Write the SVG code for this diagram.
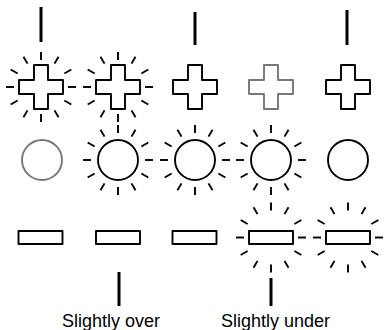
<svg xmlns="http://www.w3.org/2000/svg" xmlns:xlink="http://www.w3.org/1999/xlink" width="385" height="330" viewBox="0 0 385 330">
<style>
  .shape{fill:#fff;stroke:#000;stroke-width:1.9;stroke-linejoin:round}
  .dim{stroke:#777}
  .ray{stroke:#000;stroke-width:1.9;fill:none}
  .bar{stroke:#000;stroke-width:3;fill:none}
  .label{font-family:"Liberation Sans",Arial,sans-serif;font-size:18px;fill:#000}
</style>
<defs>
  <path id="cross" d="M-7,-22 H7 V-7 H22 V7 H7 V22 H-7 V7 H-22 V-7 H-7 Z"/>
  <g id="rays" class="ray">
    <line x1="0" y1="-27" x2="0" y2="-35"/>
    <line x1="13.5" y1="-23.38" x2="17.5" y2="-30.31"/>
    <line x1="23.38" y1="-13.5" x2="30.31" y2="-17.5"/>
    <line x1="27" y1="0" x2="35" y2="0"/>
    <line x1="23.38" y1="13.5" x2="30.31" y2="17.5"/>
    <line x1="13.5" y1="23.38" x2="17.5" y2="30.31"/>
    <line x1="0" y1="27" x2="0" y2="35"/>
    <line x1="-13.5" y1="23.38" x2="-17.5" y2="30.31"/>
    <line x1="-23.38" y1="13.5" x2="-30.31" y2="17.5"/>
    <line x1="-27" y1="0" x2="-35" y2="0"/>
    <line x1="-23.38" y1="-13.5" x2="-30.31" y2="-17.5"/>
    <line x1="-13.5" y1="-23.38" x2="-17.5" y2="-30.31"/>
  </g>
</defs>

<g id="connectors">
  <line class="bar" x1="41" y1="7" x2="41" y2="42"/>
  <line class="bar" x1="195" y1="12" x2="195" y2="45"/>
  <line class="bar" x1="347" y1="10" x2="347" y2="45"/>
  <line class="bar" x1="119" y1="272" x2="119" y2="306"/>
  <line class="bar" x1="271" y1="278" x2="271" y2="306"/>
</g>

<g id="cross1"><use href="#rays" x="41" y="87"/><use href="#cross" class="shape" x="41" y="87"/></g>
<g id="cross2"><use href="#rays" x="118" y="87"/><use href="#cross" class="shape" x="118" y="87"/></g>
<g id="cross3"><use href="#cross" class="shape" x="195" y="87"/></g>
<g id="cross4"><use href="#cross" class="shape dim" x="271" y="87"/></g>
<g id="cross5"><use href="#cross" class="shape" x="348" y="87"/></g>

<g id="circle1"><circle class="shape dim" cx="42" cy="160" r="20"/></g>
<g id="circle2"><use href="#rays" x="118" y="160"/><circle class="shape" cx="118" cy="160" r="20"/></g>
<g id="circle3"><use href="#rays" x="195" y="160"/><circle class="shape" cx="195" cy="160" r="20"/></g>
<g id="circle4"><use href="#rays" x="271" y="160"/><circle class="shape" cx="271" cy="160" r="20"/></g>
<g id="circle5"><circle class="shape" cx="348" cy="160" r="20"/></g>

<g id="rect1"><rect class="shape" x="18.5" y="231" width="44" height="13"/></g>
<g id="rect2"><rect class="shape" x="96" y="231" width="44" height="13"/></g>
<g id="rect3"><rect class="shape" x="172.5" y="231" width="44" height="13"/></g>
<g id="rect4"><use href="#rays" x="271" y="237.5"/><rect class="shape" x="249" y="231" width="44" height="13"/></g>
<g id="rect5"><use href="#rays" x="348" y="237.5"/><rect class="shape" x="326" y="231" width="44" height="13"/></g>

<g id="labels">
  <text class="label" x="62" y="327">Slightly over</text>
  <text class="label" x="221" y="327">Slightly under</text>
</g>
</svg>
